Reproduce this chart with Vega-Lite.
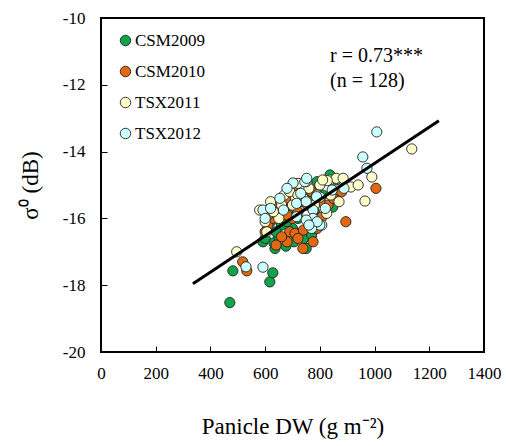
{
  "$schema": "https://vega.github.io/schema/vega-lite/v6.json",
  "width": 383,
  "height": 334,
  "autosize": "none",
  "padding": {"left": 101, "top": 18, "right": 22, "bottom": 94},
  "background": "white",
  "config": {
    "font": "Liberation Serif",
    "view": {"stroke": "black", "strokeWidth": 2},
    "axis": {"grid": false, "domain": false, "tickColor": "black", "labelColor": "black", "titleColor": "black", "labelFont": "Liberation Serif", "titleFont": "Liberation Serif", "titleFontWeight": "normal", "labelFontSize": 17, "titleFontSize": 23, "labelOverlap": false, "labelFlush": false}
  },
  "datasets": {
    "pts": [
      {"x":471,"y":-18.52,"g":"CSM2009"},{"x":482,"y":-17.57,"g":"CSM2009"},{"x":617,"y":-17.9,"g":"CSM2009"},{"x":628,"y":-17.63,"g":"CSM2009"},{"x":632,"y":-16.73,"g":"CSM2009"},{"x":636,"y":-16.9,"g":"CSM2009"},{"x":676,"y":-16.83,"g":"CSM2009"},{"x":592,"y":-16.7,"g":"CSM2009"},{"x":715,"y":-16.45,"g":"CSM2009"},{"x":847,"y":-15.66,"g":"CSM2009"},{"x":790,"y":-14.9,"g":"CSM2009"},{"x":837,"y":-14.7,"g":"CSM2009"},{"x":600,"y":-16.6,"g":"CSM2009"},{"x":650,"y":-16.55,"g":"CSM2009"},{"x":700,"y":-16.3,"g":"CSM2009"},{"x":740,"y":-16.6,"g":"CSM2009"},{"x":760,"y":-16.2,"g":"CSM2009"},{"x":780,"y":-15.8,"g":"CSM2009"},{"x":720,"y":-16.0,"g":"CSM2009"},{"x":660,"y":-16.2,"g":"CSM2009"},{"x":640,"y":-16.4,"g":"CSM2009"},{"x":690,"y":-15.7,"g":"CSM2009"},{"x":730,"y":-15.5,"g":"CSM2009"},{"x":810,"y":-15.3,"g":"CSM2009"},{"x":770,"y":-16.5,"g":"CSM2009"},{"x":750,"y":-16.9,"g":"CSM2009"},{"x":620,"y":-16.1,"g":"CSM2009"},{"x":860,"y":-14.85,"g":"CSM2009"},{"x":705,"y":-16.7,"g":"CSM2009"},{"x":680,"y":-16.1,"g":"CSM2009"},{"x":760,"y":-15.4,"g":"CSM2009"},{"x":800,"y":-16.0,"g":"CSM2009"},
      {"x":533,"y":-17.57,"g":"CSM2010"},{"x":518,"y":-17.3,"g":"CSM2010"},{"x":680,"y":-16.7,"g":"CSM2010"},{"x":738,"y":-16.9,"g":"CSM2010"},{"x":775,"y":-16.7,"g":"CSM2010"},{"x":610,"y":-16.2,"g":"CSM2010"},{"x":690,"y":-16.4,"g":"CSM2010"},{"x":709,"y":-16.45,"g":"CSM2010"},{"x":1005,"y":-15.1,"g":"CSM2010"},{"x":895,"y":-16.1,"g":"CSM2010"},{"x":807,"y":-15.96,"g":"CSM2010"},{"x":630,"y":-16.0,"g":"CSM2010"},{"x":650,"y":-15.55,"g":"CSM2010"},{"x":675,"y":-15.4,"g":"CSM2010"},{"x":720,"y":-15.8,"g":"CSM2010"},{"x":760,"y":-16.1,"g":"CSM2010"},{"x":790,"y":-16.3,"g":"CSM2010"},{"x":740,"y":-16.35,"g":"CSM2010"},{"x":700,"y":-16.0,"g":"CSM2010"},{"x":610,"y":-15.9,"g":"CSM2010"},{"x":660,"y":-16.55,"g":"CSM2010"},{"x":830,"y":-15.6,"g":"CSM2010"},{"x":880,"y":-15.2,"g":"CSM2010"},{"x":680,"y":-15.9,"g":"CSM2010"},{"x":755,"y":-15.6,"g":"CSM2010"},{"x":720,"y":-16.6,"g":"CSM2010"},{"x":600,"y":-16.4,"g":"CSM2010"},{"x":640,"y":-16.8,"g":"CSM2010"},{"x":800,"y":-15.5,"g":"CSM2010"},{"x":850,"y":-15.4,"g":"CSM2010"},{"x":770,"y":-15.2,"g":"CSM2010"},{"x":700,"y":-15.1,"g":"CSM2010"},
      {"x":496,"y":-17.0,"g":"TSX2011"},{"x":606,"y":-16.4,"g":"TSX2011"},{"x":1136,"y":-13.92,"g":"TSX2011"},{"x":990,"y":-14.76,"g":"TSX2011"},{"x":965,"y":-15.48,"g":"TSX2011"},{"x":825,"y":-15.85,"g":"TSX2011"},{"x":836,"y":-14.85,"g":"TSX2011"},{"x":860,"y":-14.8,"g":"TSX2011"},{"x":885,"y":-14.8,"g":"TSX2011"},{"x":913,"y":-15.06,"g":"TSX2011"},{"x":827,"y":-14.87,"g":"TSX2011"},{"x":580,"y":-15.75,"g":"TSX2011"},{"x":620,"y":-15.5,"g":"TSX2011"},{"x":670,"y":-15.3,"g":"TSX2011"},{"x":720,"y":-14.95,"g":"TSX2011"},{"x":760,"y":-15.1,"g":"TSX2011"},{"x":800,"y":-15.0,"g":"TSX2011"},{"x":840,"y":-15.3,"g":"TSX2011"},{"x":780,"y":-15.6,"g":"TSX2011"},{"x":700,"y":-15.6,"g":"TSX2011"},{"x":650,"y":-16.0,"g":"TSX2011"},{"x":740,"y":-15.4,"g":"TSX2011"},{"x":600,"y":-16.1,"g":"TSX2011"},{"x":690,"y":-15.2,"g":"TSX2011"},{"x":870,"y":-15.5,"g":"TSX2011"},{"x":810,"y":-14.85,"g":"TSX2011"},{"x":630,"y":-15.8,"g":"TSX2011"},{"x":750,"y":-14.9,"g":"TSX2011"},{"x":940,"y":-15.0,"g":"TSX2011"},{"x":790,"y":-15.3,"g":"TSX2011"},{"x":660,"y":-15.6,"g":"TSX2011"},{"x":720,"y":-15.3,"g":"TSX2011"},
      {"x":592,"y":-17.46,"g":"TSX2012"},{"x":530,"y":-17.45,"g":"TSX2012"},{"x":775,"y":-16.3,"g":"TSX2012"},{"x":807,"y":-16.2,"g":"TSX2012"},{"x":1008,"y":-13.41,"g":"TSX2012"},{"x":957,"y":-14.16,"g":"TSX2012"},{"x":972,"y":-14.5,"g":"TSX2012"},{"x":888,"y":-15.1,"g":"TSX2012"},{"x":845,"y":-15.15,"g":"TSX2012"},{"x":800,"y":-15.36,"g":"TSX2012"},{"x":775,"y":-15.75,"g":"TSX2012"},{"x":775,"y":-16.0,"g":"TSX2012"},{"x":800,"y":-16.2,"g":"TSX2012"},{"x":770,"y":-16.3,"g":"TSX2012"},{"x":702,"y":-14.94,"g":"TSX2012"},{"x":745,"y":-14.9,"g":"TSX2012"},{"x":752,"y":-14.8,"g":"TSX2012"},{"x":788,"y":-15.35,"g":"TSX2012"},{"x":592,"y":-15.75,"g":"TSX2012"},{"x":620,"y":-15.7,"g":"TSX2012"},{"x":667,"y":-15.75,"g":"TSX2012"},{"x":654,"y":-15.4,"g":"TSX2012"},{"x":715,"y":-15.55,"g":"TSX2012"},{"x":730,"y":-15.25,"g":"TSX2012"},{"x":750,"y":-15.5,"g":"TSX2012"},{"x":715,"y":-15.95,"g":"TSX2012"},{"x":750,"y":-16.05,"g":"TSX2012"},{"x":790,"y":-16.1,"g":"TSX2012"},{"x":760,"y":-16.2,"g":"TSX2012"},{"x":600,"y":-16.0,"g":"TSX2012"},{"x":680,"y":-15.1,"g":"TSX2012"},{"x":820,"y":-15.7,"g":"TSX2012"}
    ],
    "fit": [{"x":336,"y":-17.96},{"x":1235,"y":-13.08}],
    "ann": [{"x":837,"y":-11.15,"t":"r = 0.73***"},{"x":837,"y":-11.9,"t":"(n = 128)"}]
  },
  "layer": [
    {
      "data": {"name": "pts"},
      "mark": {"type": "point", "shape": "circle", "filled": true, "size": 105, "stroke": "#222222", "strokeWidth": 0.9, "opacity": 1},
      "encoding": {
        "x": {"field": "x", "type": "quantitative", "scale": {"domain": [0, 1400], "nice": false}, "axis": {"values": [0,200,400,600,800,1000,1200,1400], "labelExpr": "'' + datum.value", "tickSize": -6, "labelPadding": 19, "title": "Panicle DW  (g m⁻²)", "titlePadding": 34}},
        "y": {"field": "y", "type": "quantitative", "scale": {"domain": [-20, -10], "nice": false}, "axis": {"values": [-20,-18,-16,-14,-12,-10], "labelExpr": "'' + datum.value", "tickSize": -6, "labelPadding": 22, "title": "σ⁰ (dB)", "titlePadding": 20}},
        "fill": {"field": "g", "type": "nominal", "scale": {"domain": ["CSM2009","CSM2010","TSX2011","TSX2012"], "range": ["#0fa34a","#e2670f","#ffffcc","#ccffff"]},
          "legend": {"title": null, "orient": "none", "legendX": 16, "legendY": 14, "symbolType": "circle", "symbolSize": 110, "symbolStrokeColor": "#222222", "symbolStrokeWidth": 0.9, "labelFontSize": 17, "labelFont": "Liberation Serif", "labelColor": "black", "rowPadding": 13, "labelOffset": 1}}
      }
    },
    {
      "data": {"name": "fit"},
      "mark": {"type": "line", "color": "black", "strokeWidth": 3},
      "encoding": {"x": {"field": "x", "type": "quantitative"}, "y": {"field": "y", "type": "quantitative"}}
    },
    {
      "data": {"name": "ann"},
      "mark": {"type": "text", "align": "left", "baseline": "middle", "fontSize": 20, "font": "Liberation Serif", "color": "black"},
      "encoding": {"x": {"field": "x", "type": "quantitative"}, "y": {"field": "y", "type": "quantitative"}, "text": {"field": "t"}}
    }
  ]
}
